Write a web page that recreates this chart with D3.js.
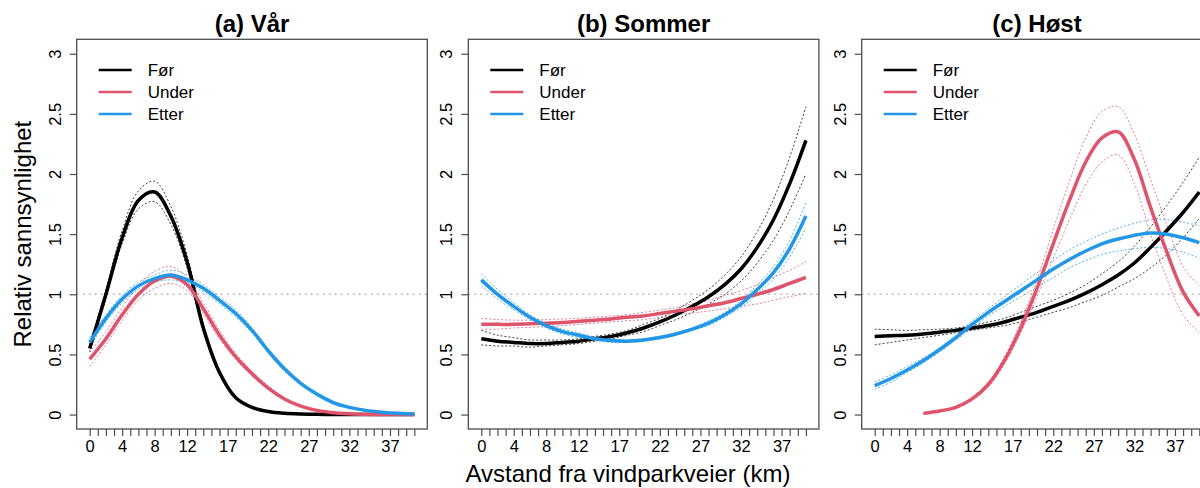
<!DOCTYPE html>
<html>
<head>
<meta charset="utf-8">
<script src="https://cdn.jsdelivr.net/npm/d3@7"></script>
<style>
  body { margin: 0; background: #fff; }
  svg { display: block; font-family: "Liberation Sans", Arial, sans-serif; }
</style>
</head>
<body>
<svg></svg>
<script>
// figurstørrelse
const width = 1200;
const height = 488;

// data: relativ sannsynlighet, lest av hver 2. km
const distances = [0, 2, 4, 6, 8, 10, 12, 14, 16, 18, 20, 22, 24, 26, 28, 30, 32, 34, 36, 38, 40];
const underDistancesHost = [6, 8, 10, 12, 14, 16, 18, 20, 22, 24, 26, 28, 30, 32, 34, 36, 38, 40];

const panelTitles = ["(a) Vår", "(b) Sommer", "(c) Høst"];
const seriesNames = ["Før", "Under", "Etter"];
const xTickLabels = [0, 4, 8, 12, 17, 22, 27, 32, 37];
const yTickValues = [0, 0.5, 1, 1.5, 2, 2.5, 3];

// (a) Vår
const varFor      = [0.55, 1.0, 1.47, 1.78, 1.85, 1.65, 1.27, 0.72, 0.35, 0.14, 0.06, 0.025, 0.01, 0.004, 0.002, 0.001, 0, 0, 0, 0, 0];
const varForLo    = [0.52, 0.96, 1.42, 1.71, 1.77, 1.58, 1.22, 0.69, 0.33, 0.13, 0.055, 0.02, 0.008, 0.003, 0.001, 0, 0, 0, 0, 0, 0];
const varForHi    = [0.58, 1.04, 1.53, 1.86, 1.94, 1.73, 1.33, 0.76, 0.37, 0.15, 0.065, 0.03, 0.012, 0.005, 0.003, 0.002, 0, 0, 0, 0, 0];
const varUnder    = [0.46, 0.63, 0.83, 1.0, 1.11, 1.15, 1.08, 0.88, 0.66, 0.48, 0.34, 0.22, 0.13, 0.07, 0.035, 0.015, 0.006, 0.002, 0.001, 0, 0];
const varUnderLo  = [0.40, 0.58, 0.78, 0.95, 1.05, 1.09, 1.03, 0.84, 0.63, 0.46, 0.32, 0.21, 0.12, 0.065, 0.03, 0.013, 0.005, 0.001, 0, 0, 0];
const varUnderHi  = [0.52, 0.69, 0.89, 1.07, 1.19, 1.23, 1.14, 0.93, 0.7, 0.51, 0.36, 0.24, 0.14, 0.075, 0.04, 0.017, 0.007, 0.003, 0.001, 0, 0];
const varEtter    = [0.6, 0.8, 0.96, 1.07, 1.13, 1.16, 1.12, 1.05, 0.95, 0.84, 0.7, 0.53, 0.38, 0.26, 0.17, 0.1, 0.06, 0.035, 0.02, 0.01, 0.005];
const varEtterLo  = [0.56, 0.77, 0.93, 1.04, 1.1, 1.12, 1.09, 1.02, 0.92, 0.81, 0.68, 0.51, 0.36, 0.25, 0.16, 0.095, 0.055, 0.03, 0.017, 0.008, 0.004];
const varEtterHi  = [0.64, 0.83, 0.99, 1.1, 1.16, 1.2, 1.16, 1.08, 0.98, 0.87, 0.72, 0.55, 0.4, 0.27, 0.18, 0.11, 0.065, 0.04, 0.023, 0.012, 0.006];

// (b) Sommer
const somFor      = [0.63, 0.61, 0.6, 0.59, 0.59, 0.6, 0.61, 0.63, 0.65, 0.68, 0.72, 0.77, 0.83, 0.9, 0.98, 1.08, 1.21, 1.39, 1.62, 1.92, 2.28];
const somForLo    = [0.58, 0.57, 0.57, 0.56, 0.57, 0.58, 0.59, 0.61, 0.63, 0.66, 0.69, 0.74, 0.79, 0.85, 0.92, 1.0, 1.11, 1.26, 1.45, 1.7, 2.0];
const somForHi    = [0.7, 0.66, 0.64, 0.62, 0.62, 0.62, 0.63, 0.65, 0.67, 0.7, 0.75, 0.8, 0.87, 0.95, 1.04, 1.16, 1.31, 1.52, 1.79, 2.14, 2.56];
const somUnder    = [0.75, 0.75, 0.75, 0.755, 0.76, 0.765, 0.775, 0.785, 0.795, 0.81, 0.82, 0.84, 0.86, 0.88, 0.905, 0.93, 0.965, 1.0, 1.04, 1.09, 1.14];
const somUnderLo  = [0.71, 0.71, 0.72, 0.725, 0.73, 0.74, 0.75, 0.76, 0.77, 0.78, 0.79, 0.81, 0.83, 0.845, 0.86, 0.88, 0.9, 0.92, 0.95, 0.98, 1.01];
const somUnderHi  = [0.8, 0.79, 0.785, 0.785, 0.79, 0.795, 0.8, 0.81, 0.82, 0.83, 0.85, 0.87, 0.89, 0.92, 0.95, 0.99, 1.03, 1.08, 1.14, 1.2, 1.27];
const somEtter    = [1.12, 1.0, 0.9, 0.81, 0.74, 0.69, 0.66, 0.63, 0.615, 0.61, 0.62, 0.64, 0.67, 0.71, 0.76, 0.83, 0.92, 1.04, 1.18, 1.38, 1.65];
const somEtterLo  = [1.07, 0.96, 0.87, 0.79, 0.72, 0.67, 0.64, 0.62, 0.6, 0.6, 0.61, 0.63, 0.66, 0.7, 0.74, 0.81, 0.89, 1.0, 1.13, 1.31, 1.55];
const somEtterHi  = [1.17, 1.04, 0.93, 0.83, 0.76, 0.71, 0.68, 0.645, 0.63, 0.62, 0.63, 0.65, 0.68, 0.72, 0.78, 0.85, 0.95, 1.08, 1.23, 1.45, 1.76];

// (c) Høst
const hostFor     = [0.65, 0.655, 0.66, 0.67, 0.685, 0.7, 0.72, 0.74, 0.77, 0.81, 0.85, 0.9, 0.95, 1.01, 1.08, 1.16, 1.26, 1.39, 1.53, 1.68, 1.85];
const hostForLo   = [0.58, 0.6, 0.62, 0.64, 0.66, 0.68, 0.7, 0.72, 0.74, 0.77, 0.81, 0.85, 0.89, 0.94, 0.99, 1.06, 1.13, 1.22, 1.33, 1.47, 1.63];
const hostForHi   = [0.71, 0.705, 0.7, 0.705, 0.71, 0.72, 0.74, 0.77, 0.8, 0.85, 0.9, 0.95, 1.01, 1.08, 1.17, 1.27, 1.4, 1.56, 1.74, 1.93, 2.14];
const hostUnder   = [0.01, 0.03, 0.06, 0.13, 0.25, 0.45, 0.72, 1.05, 1.42, 1.78, 2.1, 2.3, 2.35, 2.12, 1.72, 1.35, 1.02, 0.82];
const hostUnderLo = [0.008, 0.025, 0.05, 0.12, 0.23, 0.42, 0.68, 0.98, 1.3, 1.62, 1.91, 2.1, 2.16, 1.92, 1.5, 1.13, 0.83, 0.68];
const hostUnderHi = [0.012, 0.035, 0.07, 0.14, 0.27, 0.48, 0.77, 1.12, 1.54, 1.94, 2.3, 2.52, 2.56, 2.33, 1.95, 1.58, 1.23, 1.07];
const hostEtter   = [0.24, 0.3, 0.37, 0.45, 0.54, 0.64, 0.75, 0.85, 0.94, 1.03, 1.12, 1.21, 1.29, 1.36, 1.42, 1.46, 1.49, 1.51, 1.5, 1.47, 1.43];
const hostEtterLo = [0.21, 0.27, 0.35, 0.43, 0.52, 0.62, 0.72, 0.82, 0.9, 0.98, 1.06, 1.14, 1.22, 1.28, 1.33, 1.36, 1.38, 1.39, 1.38, 1.35, 1.3];
const hostEtterHi = [0.27, 0.33, 0.4, 0.47, 0.56, 0.66, 0.78, 0.88, 0.98, 1.08, 1.18, 1.28, 1.37, 1.44, 1.5, 1.55, 1.59, 1.62, 1.62, 1.6, 1.57];

const colors = ["#000000", "#DF536B", "#2297E6"];

const panels = [
  { title: panelTitles[0], series: [
      { x: distances, fit: varFor, lo: varForLo, hi: varForHi },
      { x: distances, fit: varUnder, lo: varUnderLo, hi: varUnderHi },
      { x: distances, fit: varEtter, lo: varEtterLo, hi: varEtterHi } ] },
  { title: panelTitles[1], series: [
      { x: distances, fit: somFor, lo: somForLo, hi: somForHi },
      { x: distances, fit: somUnder, lo: somUnderLo, hi: somUnderHi },
      { x: distances, fit: somEtter, lo: somEtterLo, hi: somEtterHi } ] },
  { title: panelTitles[2], series: [
      { x: distances, fit: hostFor, lo: hostForLo, hi: hostForHi },
      { x: underDistancesHost, fit: hostUnder, lo: hostUnderLo, hi: hostUnderHi },
      { x: distances, fit: hostEtter, lo: hostEtterLo, hi: hostEtterHi } ] }
];

let svg = d3.select("svg")
    .attr("width", width)
    .attr("height", height);

const panelLefts = [76.7, 468.3, 861.7];
const panelW = 350.6;
const plotTop = 39.3, plotBottom = 429;
const axisColor = "#4d4d4d";

// tegner ett panel
function drawPanel(p, i) {
    const left = panelLefts[i];
    // R-stil: 4 % ekstra på hver side
    let x = d3.scaleLinear().domain([-1.6, 41.6]).range([left, left + panelW]);
    let y = d3.scaleLinear().domain([-0.12, 3.12]).range([plotBottom, plotTop]);

    let g = svg.append("g");

    // stiplet referanselinje ved 1
    g.append("line")
        .attr("x1", left).attr("x2", left + panelW)
        .attr("y1", y(1)).attr("y2", y(1))
        .style("stroke", "#bdbdbd")
        .style("stroke-width", 1.5)
        .style("stroke-dasharray", "2,4");

    const line = (xs, ys) => d3.line()
        .x((d, k) => x(xs[k]))
        .y(d => y(d))
        .curve(d3.curveCatmullRom)(ys);

    p.series.forEach((s, k) => {
        // konfidensintervall
        [s.lo, s.hi].forEach(ci => {
            g.append("path")
                .attr("d", line(s.x, ci))
                .style("fill", "none")
                .style("stroke", colors[k])
                .style("stroke-opacity", 0.75)
                .style("stroke-width", 1)
                .style("stroke-dasharray", "2,2");
        });
    });
    p.series.forEach((s, k) => {
        g.append("path")
            .attr("d", line(s.x, s.fit))
            .style("fill", "none")
            .style("stroke", colors[k])
            .style("stroke-width", 3.5)
            .style("stroke-linejoin", "round");
    });

    // ramme
    g.append("rect")
        .attr("x", left).attr("y", plotTop)
        .attr("width", panelW).attr("height", plotBottom - plotTop)
        .style("fill", "none")
        .style("stroke", axisColor)
        .style("stroke-width", 1.3);

    // x-akse: tick for hver km, etiketter der R fikk plass
    let xAxis = d3.axisBottom(x)
        .tickValues(d3.range(0, 41))
        .tickSize(7)
        .tickFormat(d => xTickLabels.includes(d) ? d : "");
    let gx = g.append("g")
        .attr("transform", `translate(0, ${plotBottom})`)
        .call(xAxis);
    gx.select(".domain").remove();
    gx.selectAll(".tick line").style("stroke", axisColor).style("stroke-width", 1.2);
    gx.selectAll(".tick text")
        .attr("y", 11)
        .style("font-size", "16.5px")
        .style("fill", "#000")
        .style("font-family", "'Liberation Sans', Arial, sans-serif");

    // y-akse
    let yAxis = d3.axisLeft(y).tickValues(yTickValues).tickSize(7).tickFormat(d3.format(""));
    let gy = g.append("g")
        .attr("transform", `translate(${left}, 0)`)
        .call(yAxis);
    gy.select(".domain").remove();
    gy.selectAll(".tick line").style("stroke", axisColor).style("stroke-width", 1.2);
    gy.selectAll(".tick text")
        .attr("x", 0).attr("dy", 0)
        .attr("transform", "translate(-16, 0) rotate(-90)")
        .attr("text-anchor", "middle")
        .style("font-size", "16.5px")
        .style("fill", "#000")
        .style("font-family", "'Liberation Sans', Arial, sans-serif");

    // tittel
    g.append("text")
        .attr("x", left + panelW / 2)
        .attr("y", 32)
        .attr("text-anchor", "middle")
        .style("font-size", "24px")
        .style("font-weight", "bold")
        .text(p.title);

    // legende
    seriesNames.forEach((name, k) => {
        const ly = 70 + k * 22;
        g.append("line")
            .attr("x1", left + 22).attr("x2", left + 55)
            .attr("y1", ly).attr("y2", ly)
            .style("stroke", colors[k])
            .style("stroke-width", 2.5);
        g.append("text")
            .attr("x", left + 71)
            .attr("y", ly + 6)
            .style("font-size", "17px")
            .text(name);
    });
}

panels.forEach(drawPanel);

// aksetitler
svg.append("text")
    .attr("transform", `translate(31, ${(plotTop + plotBottom) / 2}) rotate(-90)`)
    .attr("text-anchor", "middle")
    .style("font-size", "24px")
    .text("Relativ sannsynlighet");

svg.append("text")
    .attr("x", 628)
    .attr("y", 482)
    .attr("text-anchor", "middle")
    .style("font-size", "24px")
    .text("Avstand fra vindparkveier (km)");
</script>
</body>
</html>
